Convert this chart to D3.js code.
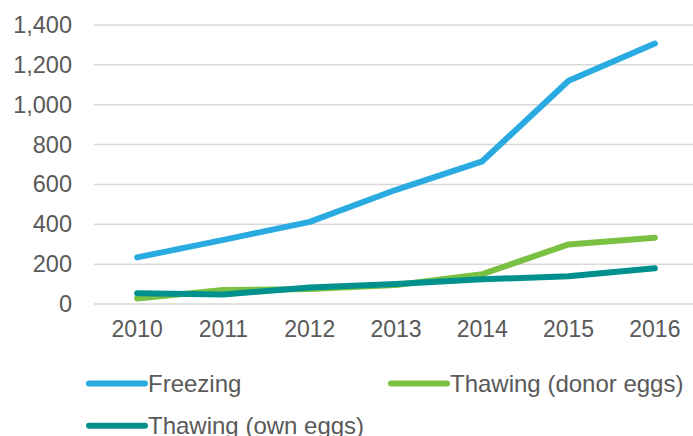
<!DOCTYPE html>
<html><head><meta charset="utf-8">
<script src="https://cdn.jsdelivr.net/npm/d3@7"></script>
<style>body{margin:0;background:#fff;overflow:hidden}svg{display:block}</style>
</head><body><svg id="c" width="693" height="436"></svg>
<script>
const years = ["2010","2011","2012","2013","2014","2015","2016"];
const freezing = [234, 322, 412, 573, 716, 1120, 1307];
const donorEggs = [28, 70, 75, 95, 150, 299, 333];
const ownEggs = [54, 48, 83, 100, 124, 139, 179];
const yTicks = [0, 200, 400, 600, 800, 1000, 1200, 1400];
const seriesNames = ["Freezing", "Thawing (donor eggs)", "Thawing (own eggs)"];
const seriesColors = ["#29abe2", "#7ac143", "#00918e"];

const svg = d3.select("#c");
const x = d3.scaleBand().domain(years).range([94, 698]).padding(0);
const y = d3.scaleLinear().domain([0, 1400]).range([304, 25]);
const font = "Arial, 'Liberation Sans', sans-serif";

// gridlines
svg.append("g").selectAll("line").data(yTicks).join("line")
  .attr("x1", 94).attr("x2", 693)
  .attr("y1", d => y(d)).attr("y2", d => y(d))
  .attr("stroke", "#d9d9d9").attr("stroke-width", 1.5);

// y labels
const yAxis = svg.append("g").attr("transform", "translate(80,0)")
  .call(d3.axisLeft(y).tickValues(yTicks).tickSize(0).tickPadding(8).tickFormat(d3.format(",")));
yAxis.select(".domain").remove();
yAxis.selectAll("text").attr("font-family", font).attr("font-size", 23.5).attr("fill", "#595959");

// x labels
const xAxis = svg.append("g").attr("transform", "translate(0,304)")
  .call(d3.axisBottom(x).tickSize(0).tickPadding(17));
xAxis.select(".domain").remove();
xAxis.selectAll("text").attr("font-family", font).attr("font-size", 23).attr("fill", "#595959");

const line = d3.line().x((d, i) => x(years[i]) + x.bandwidth() / 2).y(d => y(d));
const data = [freezing, donorEggs, ownEggs];
[1, 2, 0].forEach(i => {
  svg.append("path").datum(data[i]).attr("d", line)
    .attr("fill", "none").attr("stroke", seriesColors[i]).attr("stroke-width", 6)
    .attr("stroke-linecap", "round").attr("stroke-linejoin", "round");
});

// legend
const legendPos = [[89, 383.5], [391, 383.5], [89, 425.7]];
seriesNames.forEach((name, i) => {
  const [lx, ly] = legendPos[i];
  svg.append("line").attr("x1", lx).attr("x2", lx + 56).attr("y1", ly).attr("y2", ly)
    .attr("stroke", seriesColors[i]).attr("stroke-width", 6).attr("stroke-linecap", "round");
  svg.append("text").attr("x", lx + 59).attr("y", ly).attr("dy", "0.35em")
    .attr("font-family", font).attr("font-size", 24).attr("fill", "#595959").text(name);
});
</script></body></html>
